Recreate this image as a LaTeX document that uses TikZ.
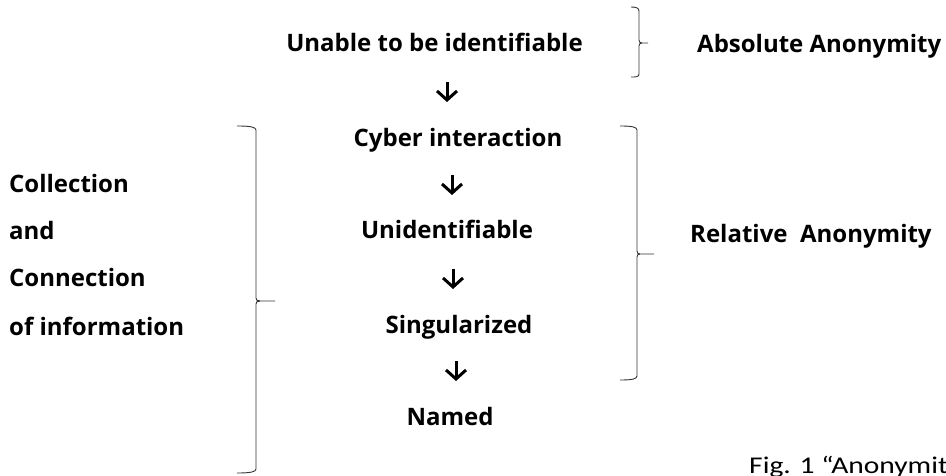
\documentclass[tikz,border=0pt]{standalone}
\usepackage{fontspec}
\setmainfont{Open Sans}
\newfontfamily\capfont[FakeStretch=1.23]{Carlito}
\usetikzlibrary{arrows.meta}
\begin{document}
\begin{tikzpicture}[x=1pt,y=-1pt,
  lbl/.style={font=\fontsize{24}{28}\selectfont\bfseries, inner sep=0pt, anchor=base},
  lbll/.style={lbl, anchor=base west},
  arr/.style={line width=3pt, -{Straight Barb[length=9pt,width=20pt,line width=3pt]}},
  brc/.style={line width=0.9pt, draw=black!80}]
\useasboundingbox (0,0) rectangle (946,476);
% main column
\node[lbl] (u) at (434.5,52) {Unable to be identifiable};
\node[lbl] (c) at (458,147) {Cyber interaction};
\node[lbl] (i) at (447,238) {Unidentifiable};
\node[lbl] (s) at (459,333) {Singularized};
\node[lbl] (n) at (450,425) {Named};
% arrows
\coordinate (a1s) at (447,82);  \coordinate (a1e) at (447,102);
\coordinate (a2s) at (452,175); \coordinate (a2e) at (452,195);
\coordinate (a3s) at (453,269); \coordinate (a3e) at (453,289);
\coordinate (a4s) at (456,361); \coordinate (a4e) at (456,381);
\draw[arr] (a1s) -- (a1e);
\draw[arr] (a2s) -- (a2e);
\draw[arr] (a3s) -- (a3e);
\draw[arr] (a4s) -- (a4e);
% left labels
\node[lbll] (l1) at (9,193) {Collection};
\node[lbll] (l2) at (9,240) {and};
\node[lbll] (l3) at (9,287) {Connection};
\node[lbll] (l4) at (9,335) {of information};
% right labels
\node[lbll] (ab) at (697,53) {Absolute Anonymity};
\node[lbll] (re) at (690,242) {Relative\ \ Anonymity};
% caption
\node[anchor=base west, inner sep=0pt, font=\capfont\fontsize{24}{28}\selectfont] (fig) at (749,473) {Fig. 1 “Anonymit};
% brace: absolute
\draw[brc] (631,7) .. controls (636,7) and (639,8) .. (639,11) -- (639,40)
  .. controls (639,42) and (640,43) .. (642,43) -- (648,43);
\draw[brc] (642,43) .. controls (640,43) and (639,44) .. (639,46) -- (639,74)
  .. controls (639,77) and (636,77) .. (631,77);
% brace: relative
\draw[brc] (620,126) .. controls (632,126) and (637,127) .. (637,130) -- (637,251)
  .. controls (637,253) and (638,254) .. (640,254) -- (654,254);
\draw[brc] (640,254) .. controls (638,254) and (637,255) .. (637,257) -- (637,376)
  .. controls (637,379) and (632,380) .. (620,380);
% brace: left
\draw[brc] (237,126) .. controls (250,126) and (256,127) .. (256,130) -- (256,298)
  .. controls (256,300) and (257,301) .. (260,301) -- (275,301);
\draw[brc] (260,301) .. controls (257,301) and (256,302) .. (256,304) -- (256,469)
  .. controls (256,472) and (250,473) .. (237,473);
\end{tikzpicture}
\end{document}
